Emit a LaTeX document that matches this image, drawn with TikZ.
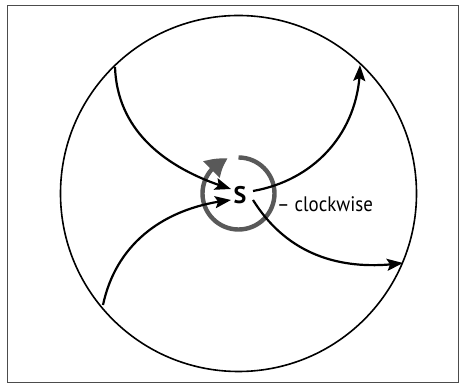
\documentclass[tikz,border=0pt]{standalone}
\usepackage{fontspec}
\setmainfont{PT Sans}
\usetikzlibrary{arrows.meta, calc, bending}

\tikzset{
    flow/.style={line width=2.2pt, -{Stealth[length=16pt, width=12pt, inset=3pt]}},
    spin/.style={line width=4.4pt, draw=black!65, -{Triangle[length=20pt, width=22pt, bend]}}
}

\begin{document}
\begin{tikzpicture}[x=1pt, y=1pt]
    \useasboundingbox (0, 0) rectangle (459, 383);
    \draw[black!70, line width=0.8pt] (7, 1) rectangle (458, 378);

    \node[circle, draw, line width=1.6pt, minimum size=356pt, inner sep=0pt] (disc) at (238.5, 189.5) {};
    \node[font=\bfseries\fontsize{24}{24}\selectfont, inner sep=0pt] (s) at (240, 188) {S};
    \node[anchor=base west, font=\fontsize{21}{21}\selectfont, inner sep=0pt, xscale=0.9] (label) at (277, 171) {-- clockwise};

    \coordinate (a) at (115, 316);
    \coordinate (b) at (103, 78);
    \coordinate (c) at (360, 318);
    \coordinate (d) at (403, 120);
    \coordinate (ina) at (231, 194);
    \coordinate (inb) at (231, 183);
    \coordinate (outc) at (253, 192);
    \coordinate (outd) at (253, 183);

    % rotation around S
    \draw[spin] ($(disc.center) + (90:36)$) arc (90:-253:36);

    \draw
    (a) edge[flow, out=-88, in=163] (ina)
    (b) edge[flow, out=78, in=186] (inb)
    (outc) edge[flow, out=10, in=-90] (c)
    (outd) edge[flow, out=-58, in=188] (d);
\end{tikzpicture}
\end{document}
